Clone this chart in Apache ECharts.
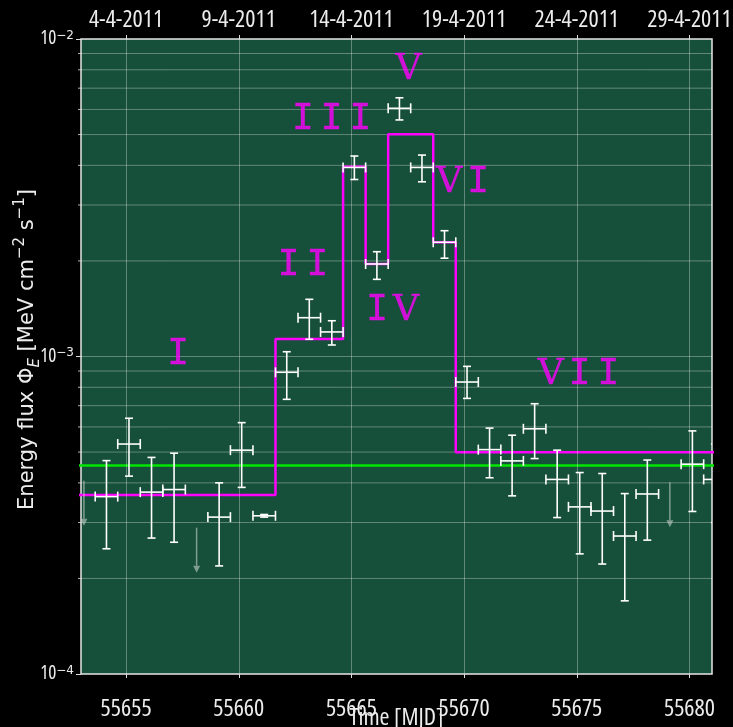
<!DOCTYPE html>
<html><head><meta charset="utf-8">
<script src="https://cdn.jsdelivr.net/npm/echarts@6/dist/echarts.min.js"></script>
<style>html,body{margin:0;padding:0;background:#000;}#c{width:733px;height:727px;}</style>
</head><body><div id="c"></div>
<script>
// ---- data ----
const xTicks = [55655, 55660, 55665, 55670, 55675, 55680];
const dateLabels = ['4-4-2011', '9-4-2011', '14-4-2011', '19-4-2011', '24-4-2011', '29-4-2011'];
const yTicks = [1e-4, 1e-3, 1e-2];
const yTickExp = ['−4', '−3', '−2'];
const gridY = [2e-4,3e-4,4e-4,5e-4,6e-4,7e-4,8e-4,9e-4,1e-3,2e-3,3e-3,4e-3,5e-3,6e-3,7e-3,8e-3,9e-3];

const pointMjd = [55654.13,55655.13,55656.13,55657.13,55659.13,55660.13,55661.13,55662.13,55663.13,55664.13,55665.13,55666.13,55667.13,55668.13,55669.13,55670.13,55671.13,55672.13,55673.13,55674.13,55675.13,55676.13,55677.13,55678.13,55680.13,55681.13];
const flux     = [3.62e-4,5.30e-4,3.74e-4,3.81e-4,3.12e-4,5.07e-4,3.15e-4,8.92e-4,1.325e-3,1.195e-3,3.94e-3,1.956e-3,6.05e-3,3.94e-3,2.29e-3,8.31e-4,5.09e-4,4.69e-4,5.92e-4,4.10e-4,3.36e-4,3.26e-4,2.72e-4,3.69e-4,4.58e-4,4.10e-4];
const fluxLow  = [2.48e-4,4.20e-4,2.68e-4,2.60e-4,2.19e-4,3.87e-4,3.12e-4,7.33e-4,1.133e-3,1.087e-3,3.61e-3,1.750e-3,5.56e-3,3.55e-3,2.04e-3,7.38e-4,4.15e-4,3.64e-4,4.77e-4,3.11e-4,2.39e-4,2.22e-4,1.70e-4,2.64e-4,3.25e-4,3.00e-4];
const fluxHigh = [4.70e-4,6.39e-4,4.81e-4,4.96e-4,4.00e-4,6.19e-4,3.18e-4,1.035e-3,1.514e-3,1.296e-3,4.28e-3,2.138e-3,6.53e-3,4.31e-3,2.49e-3,9.31e-4,5.95e-4,5.65e-4,7.10e-4,5.07e-4,4.31e-4,4.28e-4,3.70e-4,4.72e-4,5.83e-4,5.30e-4];
const binHalfWidth = 0.5;

const ulMjd  = [55653.13, 55658.13, 55679.13];
const ulFlux = [4.06e-4, 2.89e-4, 4.02e-4];

const stepEdges = [55652.63, 55661.63, 55664.63, 55665.63, 55666.63, 55668.63, 55669.63, 55681.63];
const stepFlux  = [3.66e-4, 1.135e-3, 3.96e-3, 1.956e-3, 5.01e-3, 2.29e-3, 4.99e-4];
const steadyFlux = 4.54e-4;

const periodNames = ['I', 'II', 'III', 'IV', 'V', 'VI', 'VII'];
const periodLabelX = [55657.31, 55662.85, 55664.12, 55666.78, 55667.53, 55669.98, 55675.12];
const periodLabelY = [1.01e-3, 1.93e-3, 5.59e-3, 1.39e-3, 8.0e-3, 3.54e-3, 8.75e-4];

// ---- chart ----
const tickFont = '"Open Sans", "DejaVu Sans Condensed", sans-serif';
const txt = '#ececec';
const chart = echarts.init(document.getElementById('c'), null, {renderer: 'canvas'});

const stepData = stepFlux.map((v, i) => [stepEdges[i], v]);
stepData.push([stepEdges[stepEdges.length - 1], stepFlux[stepFlux.length - 1]]);

const pointData = pointMjd.map((x, i) => [x, flux[i], fluxLow[i], fluxHigh[i]]);
const ulData = ulMjd.map((x, i) => [x, ulFlux[i]]);
const labelData = periodNames.map((n, i) => ({name: n, value: [periodLabelX[i], periodLabelY[i]]}));
const hGridData = gridY.map(v => [55667, v]);

const gridColor = 'rgba(255,255,255,0.32)';
const numeralBase = {fontSize: 36, color: '#ff00ff', textBorderColor: '#ff00ff', textBorderWidth: 0.4};

chart.setOption({
  backgroundColor: '#000',
  animation: false,
  grid: {left: 81, top: 39, width: 631, height: 635, outerBoundsMode: 'none', containLabel: false,
         show: true, backgroundColor: '#164f3a', borderColor: '#e6e6e6', borderWidth: 1.5},
  xAxis: [{
    type: 'value', min: 55653, max: 55681, position: 'bottom',
    name: 'Time [MJD]', nameLocation: 'middle', nameGap: 32, nameMoveOverlap: false,
    nameTextStyle: {color: txt, fontSize: 24, fontFamily: tickFont, fontStyle: 'condensed'},
    axisLine: {show: false},
    axisTick: {show: true, customValues: xTicks, length: 4, lineStyle: {color: '#ddd'}},
    axisLabel: {customValues: xTicks, color: txt, fontSize: 24, fontFamily: tickFont, fontStyle: 'condensed', margin: 23, hideOverlap: false,
      formatter: v => String(v)},
    splitLine: {show: false}
  }, {
    type: 'value', min: 55653, max: 55681, position: 'top',
    axisLine: {show: false},
    axisTick: {show: true, customValues: xTicks, length: 4, lineStyle: {color: '#ddd'}},
    axisLabel: {customValues: xTicks, color: txt, fontSize: 24, fontFamily: tickFont, fontStyle: 'condensed', margin: 7, hideOverlap: false,
      formatter: v => dateLabels[xTicks.indexOf(Math.round(v))] || ''},
    splitLine: {show: false}
  }],
  yAxis: {
    type: 'log', logBase: 10, min: 1e-4, max: 1e-2,
    name: '{a|Energy flux Φ}{sub|E}{a| [MeV cm}{sup|−2}{a| s}{sup|−1}{a|]}',
    nameLocation: 'middle', nameGap: 38, nameRotate: 90, nameMoveOverlap: false,
    nameTextStyle: {color: txt, padding: [0, 0, 0, 14], rich: {
      a: {fontSize: 21, fontFamily: 'DejaVu Sans', color: txt, lineHeight: 30},
      sub: {fontSize: 15, fontFamily: 'DejaVu Sans', fontStyle: 'italic', color: txt, lineHeight: 22, verticalAlign: 'bottom'},
      sup: {fontSize: 15, fontFamily: 'DejaVu Sans', color: txt, lineHeight: 18, verticalAlign: 'top'}
    }},
    axisLine: {show: false},
    axisTick: {show: true, length: 5, lineStyle: {color: '#ddd'}},
    axisLabel: {color: txt, margin: 7, customValues: yTicks,
      formatter: v => { const i = yTicks.findIndex(t => Math.abs(Math.log10(t) - Math.log10(v)) < 1e-6); return i < 0 ? '' : '{b|10}{s|' + yTickExp[i] + '}'; },
      rich: {b: {fontSize: 19, fontFamily: tickFont, fontStyle: 'condensed', color: txt, lineHeight: 19},
             s: {fontSize: 12, fontFamily: 'DejaVu Sans', color: txt, lineHeight: 12, verticalAlign: 'top'}}},
    splitLine: {show: false}
  },
  series: [{
    // horizontal grid lines (major + minor log ticks), with small outward ticks on the left
    type: 'custom', data: hGridData, z: 1, silent: true, clip: false,
    renderItem: (params, api) => {
      const y = api.coord([api.value(0), api.value(1)])[1];
      const cs = params.coordSys;
      return {type: 'group', children: [
        {type: 'line', shape: {x1: cs.x, y1: y, x2: cs.x + cs.width, y2: y}, style: {stroke: gridColor, lineWidth: 1}},
        {type: 'line', shape: {x1: cs.x - 3, y1: y, x2: cs.x, y2: y}, style: {stroke: 'rgba(220,220,220,0.8)', lineWidth: 1}}
      ]};
    }
  }, {
    type: 'line', data: [], z: 1, silent: true,
    markLine: {silent: true, symbol: 'none', label: {show: false}, lineStyle: {color: gridColor, width: 1, type: 'solid'}, animation: false,
      data: xTicks.map(v => ({xAxis: v}))}
  }, {
    type: 'line', data: [[55652, steadyFlux], [55682, steadyFlux]], symbol: 'none', z: 3,
    lineStyle: {color: '#00e600', width: 2.5}
  }, {
    type: 'line', data: stepData, step: 'end', symbol: 'none', z: 4,
    lineStyle: {color: '#ff00ff', width: 2.5}
  }, {
    type: 'custom', data: ulData, clip: true, z: 5,
    renderItem: (params, api) => {
      const p = api.coord([api.value(0), api.value(1)]);
      const len = 45, head = 7, c = 'rgba(200,210,205,0.6)';
      return {type: 'group', children: [
        {type: 'line', shape: {x1: p[0], y1: p[1], x2: p[0], y2: p[1] + len - head}, style: {stroke: c, lineWidth: 1.5}},
        {type: 'polygon', shape: {points: [[p[0] - 3.5, p[1] + len - head], [p[0] + 3.5, p[1] + len - head], [p[0], p[1] + len]]}, style: {fill: c}}
      ]};
    }
  }, {
    type: 'custom', data: pointData, clip: true, z: 6,
    renderItem: (params, api) => {
      const x = api.value(0), y = api.value(1);
      const l = api.coord([x - binHalfWidth, y]), r = api.coord([x + binHalfWidth, y]);
      const t = api.coord([x, api.value(3)]), b = api.coord([x, api.value(2)]);
      const st = {stroke: '#fff', lineWidth: 1.6};
      const cy = 4, cx = 5;
      return {type: 'group', children: [
        {type: 'line', shape: {x1: l[0], y1: l[1], x2: r[0], y2: r[1]}, style: st},
        {type: 'line', shape: {x1: t[0], y1: t[1], x2: b[0], y2: b[1]}, style: st},
        {type: 'line', shape: {x1: t[0] - cy, y1: t[1], x2: t[0] + cy, y2: t[1]}, style: st},
        {type: 'line', shape: {x1: b[0] - cy, y1: b[1], x2: b[0] + cy, y2: b[1]}, style: st},
        {type: 'line', shape: {x1: l[0], y1: l[1] - cx, x2: l[0], y2: l[1] + cx}, style: st},
        {type: 'line', shape: {x1: r[0], y1: r[1] - cx, x2: r[0], y2: r[1] + cx}, style: st}
      ]};
    }
  }, {
    type: 'scatter', data: labelData, symbolSize: 0, z: 7, silent: true,
    label: {show: true, position: 'inside', color: '#ff00ff',
      formatter: p => p.name.split('').map(ch => '{' + (ch === 'I' ? 'i' : 'v') + '|' + ch + '}').join(''),
      rich: {
        i: Object.assign({padding: [0, 3.5], fontFamily: '"DejaVu Sans Mono", monospace'}, numeralBase),
        v: Object.assign({padding: [0, 1.4], fontFamily: '"DejaVu Serif", serif'}, numeralBase)
      }}
  }]
});
</script></body></html>
